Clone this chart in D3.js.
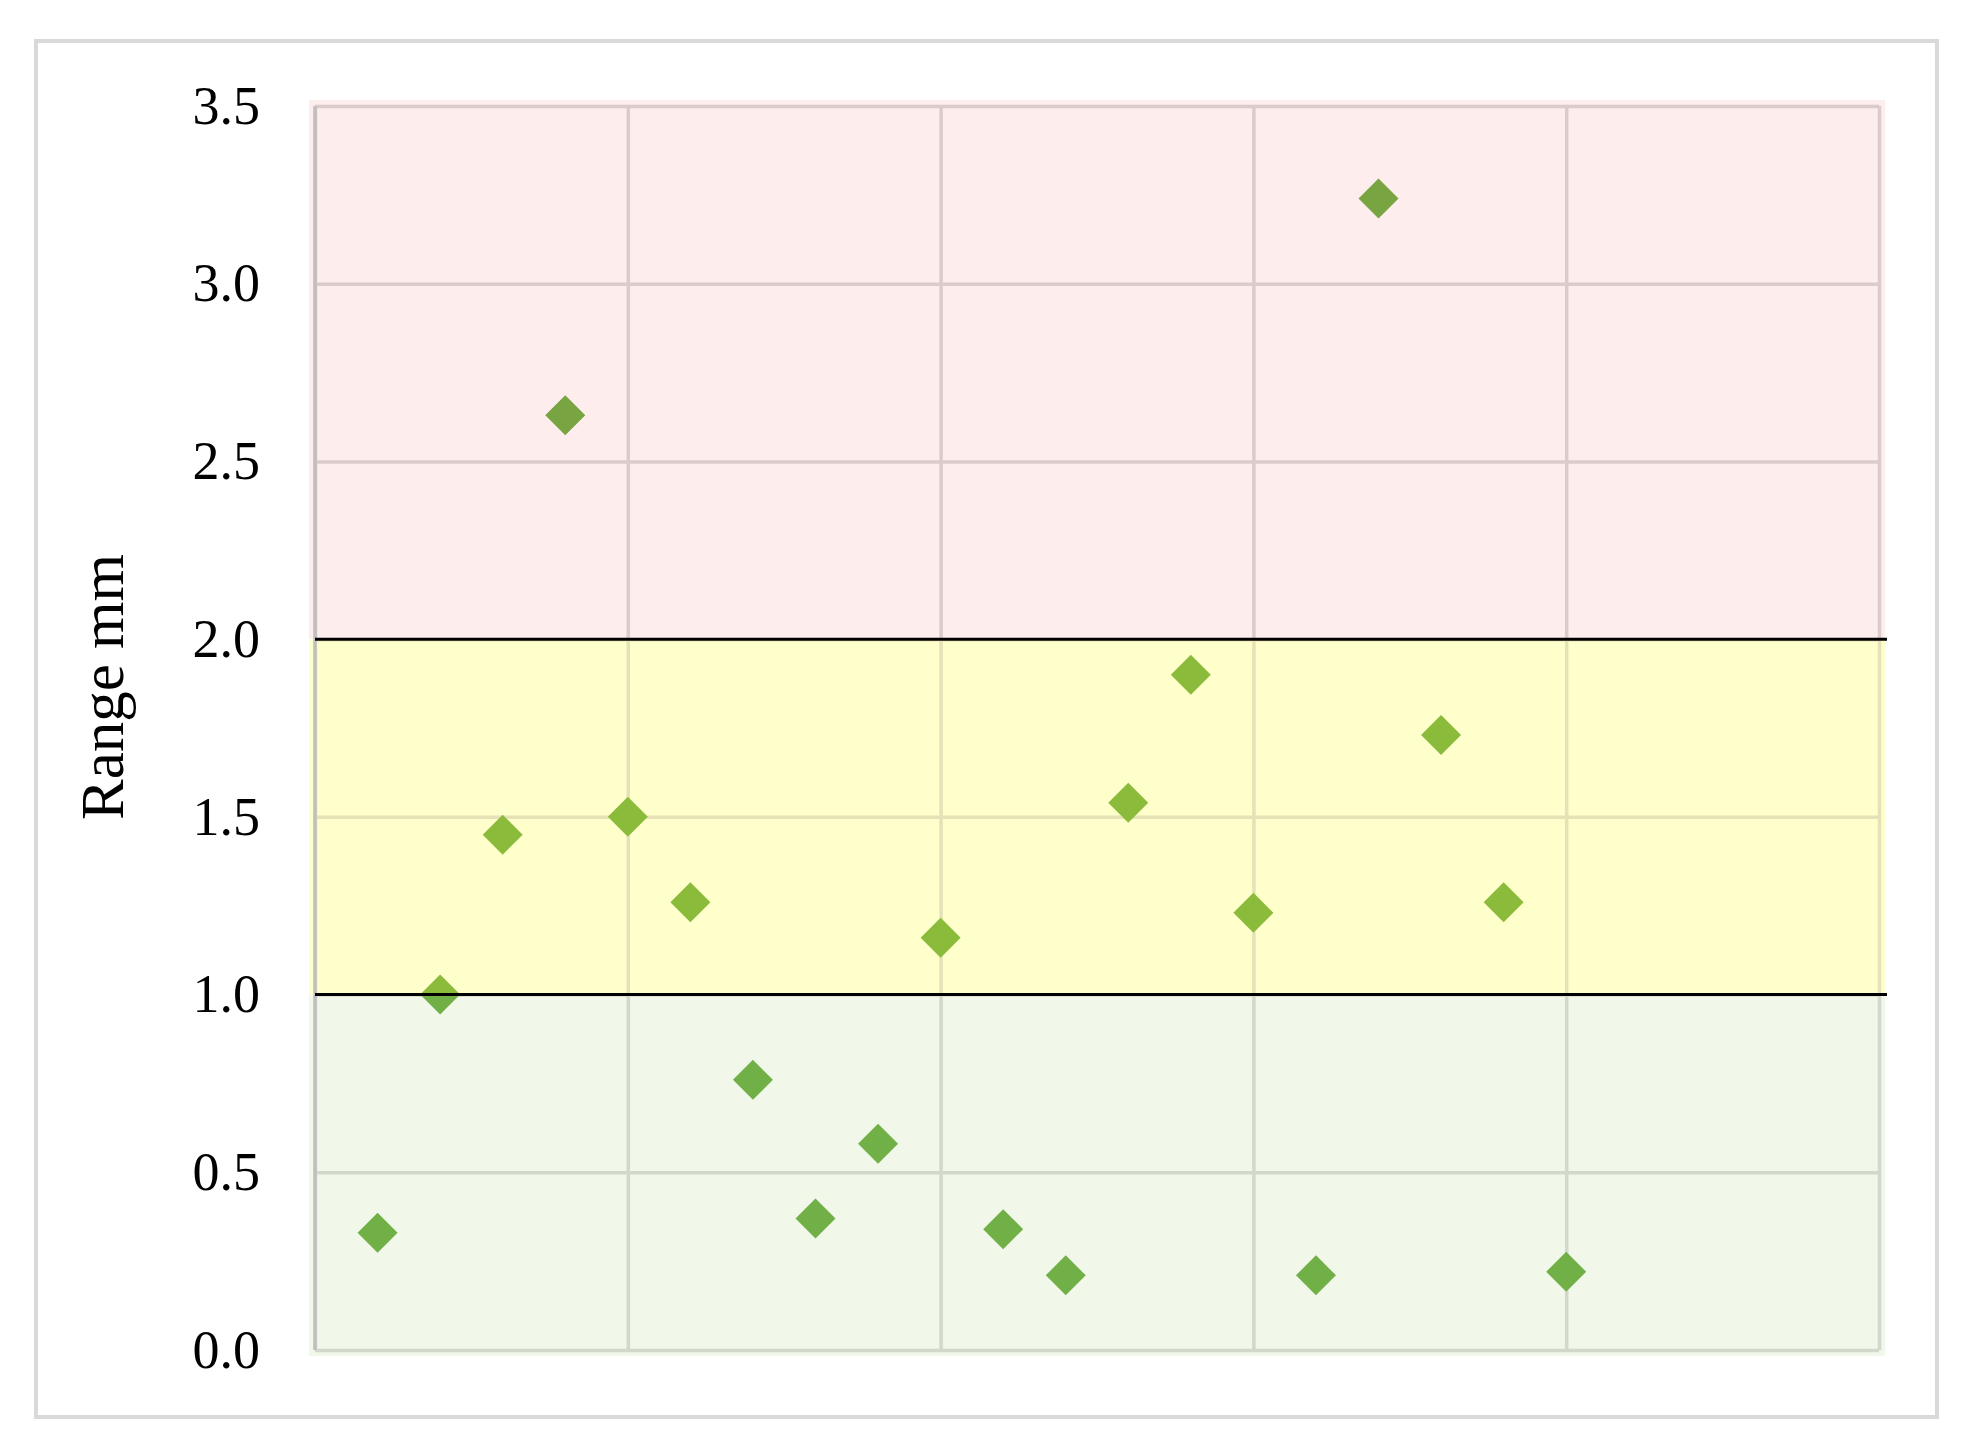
<!DOCTYPE html>
<html>
<head>
<meta charset="utf-8">
<script src="https://cdn.jsdelivr.net/npm/d3@7"></script>
<style>
  body { margin: 0; background: #ffffff; }
  .tickText { font-family: "Liberation Serif", "Times New Roman", serif; font-size: 54px; fill: #000000; }
  .aText { font-family: "Liberation Serif", "Times New Roman", serif; font-size: 61px; fill: #000000; }
</style>
</head>
<body>
<div id="scatter"></div>
<script>
// D3 Scatter - Range mm

// Section 1: Data

var sampleNo = [1, 2, 3, 4, 5, 6, 7, 8, 9, 10, 11, 12, 13, 14, 15, 16, 17, 18, 19, 20];
var rangeMm = [0.33, 1.00, 1.45, 2.63, 1.50, 1.26, 0.76, 0.37, 0.58, 1.16,
               0.34, 0.21, 1.54, 1.90, 1.23, 0.21, 3.24, 1.73, 1.26, 0.22];
var yTicks = [0.0, 0.5, 1.0, 1.5, 2.0, 2.5, 3.0, 3.5];
var xTicks = [0, 5, 10, 15, 20, 25];

// Bands: name, lower, upper
var bandNames = ["red", "yellow", "green"];
var bandLow = [2, 1, 0];
var bandHigh = [3.5, 2, 1];
var bandFill = ["#fdeeed", "#ffffcc", "#f1f7e9"];
var bandGrid = ["#dccbcb", "#e5e2b8", "#d2d8cb"];
var bandMark = ["#78a442", "#8bbb3a", "#71b046"];

// Section 2: Set up

var width = 1981;
var height = 1451;

var plotLeft = 315;
var plotRight = 1879;
var plotTop = 106;
var plotBottom = 1350;
var bandPad = 6;

var svg = d3
  .select("#scatter")
  .append("svg")
  .attr("width", width)
  .attr("height", height)
  .attr("class", "chart");

svg
  .append("rect")
  .attr("width", width)
  .attr("height", height)
  .attr("fill", "#ffffff");

// Outer frame
svg
  .append("rect")
  .attr("x", 36)
  .attr("y", 41)
  .attr("width", 1901)
  .attr("height", 1376)
  .attr("fill", "none")
  .attr("stroke", "#d9d9d9")
  .attr("stroke-width", 4);

// Scales
var xScale = d3.scaleLinear().domain([0, 25]).range([plotLeft, plotRight]);
var yScale = d3.scaleLinear().domain([0, 3.5]).range([plotBottom, plotTop]);

var data = sampleNo.map(function(d, i) {
  return { x: d, y: rangeMm[i] };
});

var diamond = d3.symbol().type(d3.symbolSquare).size(800);

// Section 3: Bands, clipped grid and markers

var defs = svg.append("defs");

bandNames.forEach(function(name, i) {
  var y0 = yScale(bandHigh[i]);
  var y1 = yScale(bandLow[i]);
  if (i === 0) y0 -= bandPad;
  if (i === bandNames.length - 1) y1 += bandPad;

  defs
    .append("clipPath")
    .attr("id", "clip-" + name)
    .append("rect")
    .attr("x", plotLeft - bandPad)
    .attr("y", y0)
    .attr("width", plotRight - plotLeft + bandPad * 2)
    .attr("height", y1 - y0);

  var band = svg.append("g").attr("clip-path", "url(#clip-" + name + ")");

  band
    .append("rect")
    .attr("x", plotLeft - bandPad)
    .attr("y", y0)
    .attr("width", plotRight - plotLeft + bandPad * 2)
    .attr("height", y1 - y0)
    .attr("fill", bandFill[i]);

  // Horizontal grid
  band
    .append("g")
    .attr("transform", "translate(" + plotLeft + ",0)")
    .call(d3.axisLeft(yScale).tickValues(yTicks).tickSize(-(plotRight - plotLeft)).tickFormat(""))
    .call(function(g) { g.select(".domain").remove(); })
    .selectAll("line")
    .attr("stroke", bandGrid[i])
    .attr("stroke-width", 3.5);

  // Vertical grid
  band
    .append("g")
    .attr("transform", "translate(0," + plotBottom + ")")
    .call(d3.axisBottom(xScale).tickValues(xTicks).tickSize(-(plotBottom - plotTop)).tickFormat(""))
    .call(function(g) { g.select(".domain").remove(); })
    .selectAll("line")
    .attr("stroke", bandGrid[i])
    .attr("stroke-width", 3.5);

  // Left axis line
  band
    .append("line")
    .attr("x1", plotLeft)
    .attr("x2", plotLeft)
    .attr("y1", plotTop)
    .attr("y2", plotBottom)
    .attr("stroke", "#bfbfbf")
    .attr("stroke-width", 3.5);

  // Markers
  band
    .selectAll("path.mark")
    .data(data)
    .enter()
    .append("path")
    .attr("class", "mark")
    .attr("d", diamond)
    .attr("transform", function(d) {
      return "translate(" + xScale(d.x) + "," + yScale(d.y) + ") rotate(45)";
    })
    .attr("fill", bandMark[i]);
});

// Threshold lines at 1.0 and 2.0
svg
  .selectAll("line.limit")
  .data([1, 2])
  .enter()
  .append("line")
  .attr("class", "limit")
  .attr("x1", plotLeft)
  .attr("x2", plotRight + bandPad + 2)
  .attr("y1", function(d) { return yScale(d); })
  .attr("y2", function(d) { return yScale(d); })
  .attr("stroke", "#000000")
  .attr("stroke-width", 3);

// Section 4: Y axis labels

var yAxis = d3
  .axisLeft(yScale)
  .tickValues(yTicks)
  .tickSize(0)
  .tickPadding(55)
  .tickFormat(d3.format(".1f"));

svg
  .append("g")
  .attr("class", "yAxis")
  .attr("transform", "translate(" + plotLeft + ",0)")
  .call(yAxis)
  .call(function(g) { g.select(".domain").remove(); })
  .selectAll("text")
  .attr("class", "tickText")
  .attr("dy", "0.32em")
  .attr("font-family", null)
  .attr("font-size", null);

// Axis title, centred a little above the plot middle as in the original
svg
  .append("g")
  .attr("transform", "translate(123,687) rotate(-90)")
  .append("text")
  .attr("class", "aText")
  .attr("text-anchor", "middle")
  .text("Range mm");
</script>
</body>
</html>
